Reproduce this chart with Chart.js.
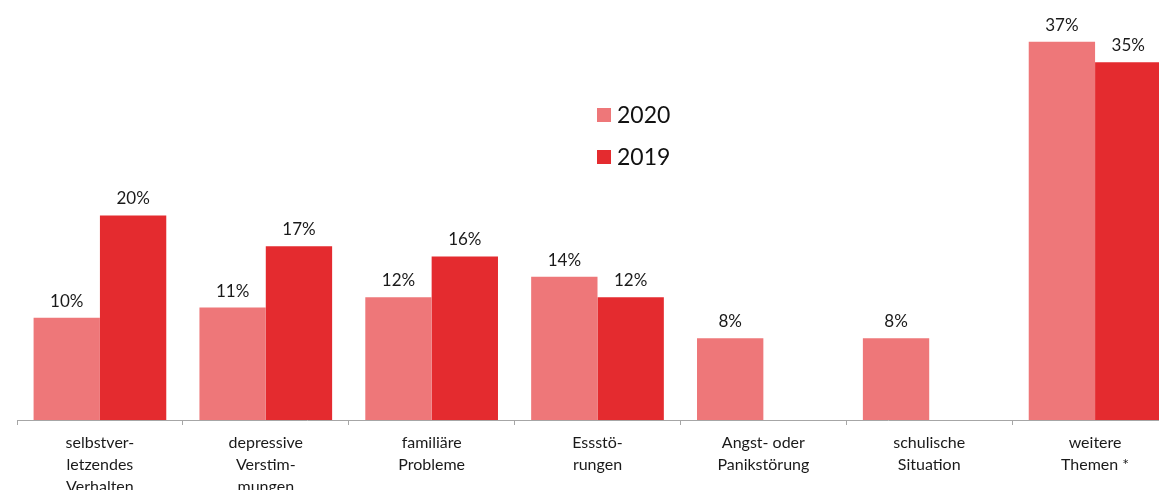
<!DOCTYPE html>
<html lang="de">
<head>
<meta charset="utf-8">
<title>Themen 2019 / 2020</title>
<script src="https://cdn.jsdelivr.net/npm/chart.js@4/dist/chart.umd.min.js"></script>
<style>
  html, body { margin: 0; padding: 0; background: #fff; overflow: hidden; }
  #wrap { width: 1180px; height: 490px; }
</style>
</head>
<body>
<div id="wrap"><canvas id="themenChart" width="1180" height="490"></canvas></div>
<script>
// ===================== Daten =====================
const categories = [
  ['selbstver-', 'letzendes', 'Verhalten'],
  ['depressive', 'Verstim-', 'mungen'],
  ['familiäre', 'Probleme'],
  ['Essstö-', 'rungen'],
  ['Angst- oder', 'Panikstörung'],
  ['schulische', 'Situation'],
  ['weitere', 'Themen *']
];
const values2020 = [10, 11, 12, 14, 8, 8, 37];
const values2019 = [20, 17, 16, 12, null, null, 35];
const seriesLabels = ['2020', '2019'];
const seriesColors = ['#ee7779', '#e42b2f'];

const FONT = 'Lato, "Open Sans", sans-serif';

// ===================== Prozentwerte über den Balken =====================
const valueLabels = {
  id: 'valueLabels',
  afterDatasetsDraw(chart) {
    const ctx = chart.ctx;
    ctx.save();
    ctx.font = '17px ' + FONT;
    ctx.fillStyle = '#1a1a1a';
    ctx.textAlign = 'center';
    ctx.textBaseline = 'bottom';
    chart.data.datasets.forEach(function (ds, i) {
      chart.getDatasetMeta(i).data.forEach(function (bar, j) {
        const v = ds.data[j];
        if (v === null || v === undefined) return;
        ctx.fillText(v + '%', bar.x, bar.y - 8);
      });
    });
    ctx.restore();
  }
};

// ===================== Legende im Diagramm =====================
const insideLegend = {
  id: 'insideLegend',
  afterDraw(chart) {
    const ctx = chart.ctx;
    const x = 597, y0 = 115, step = 42, box = 14;
    ctx.save();
    ctx.font = '23px ' + FONT;
    ctx.textBaseline = 'middle';
    chart.data.datasets.forEach(function (ds, i) {
      const y = y0 + i * step;
      ctx.fillStyle = ds.backgroundColor;
      ctx.fillRect(x, y - box / 2, box, box);
      ctx.fillStyle = '#111';
      ctx.fillText(ds.label, x + box + 6, y + 1);
    });
    ctx.restore();
  }
};

new Chart(document.getElementById('themenChart'), {
  type: 'bar',
  data: {
    labels: categories,
    datasets: [
      { label: seriesLabels[0], data: values2020, backgroundColor: seriesColors[0] },
      { label: seriesLabels[1], data: values2019, backgroundColor: seriesColors[1] }
    ]
  },
  options: {
    responsive: false,
    animation: false,
    layout: { padding: { left: 17, right: 2, top: 11, bottom: 0 } },
    datasets: { bar: { categoryPercentage: 0.8, barPercentage: 1.0 } },
    plugins: {
      legend: { display: false },
      tooltip: { enabled: false }
    },
    scales: {
      y: { display: false, min: 0, max: 40 },
      x: {
        grid: {
          drawOnChartArea: false,
          drawTicks: true,
          tickLength: 5,
          color: '#a6a6a6',
          offset: true
        },
        border: { display: true, color: '#a6a6a6', width: 1 },
        ticks: {
          color: '#1a1a1a',
          padding: 7,
          maxRotation: 0,
          autoSkip: false,
          font: { family: FONT, size: 16, lineHeight: 1.38 }
        },
        afterFit(scale) { scale.height = 70; }
      }
    }
  },
  plugins: [valueLabels, insideLegend]
});
</script>
</body>
</html>
